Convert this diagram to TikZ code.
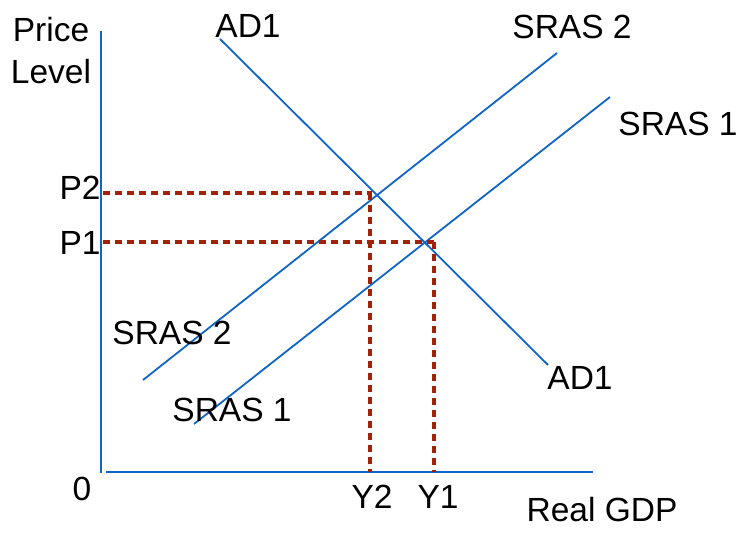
\documentclass[tikz,border=0pt]{standalone}
\usepackage{fontspec}
\setmainfont{Liberation Sans}
\begin{document}
\begin{tikzpicture}[x=1pt,y=-1pt,
  curve/.style={draw=axisblue,line width=1.8pt},
  guide/.style={draw=guidered,line width=3.5pt,dash pattern=on 7pt off 5pt},
  lbl/.style={inner sep=0pt,font=\fontsize{33.5}{33.5}\selectfont}]
\definecolor{axisblue}{RGB}{14,100,200}
\definecolor{guidered}{RGB}{160,34,8}
\useasboundingbox (0,0) rectangle (748,533);
% axes
\coordinate (ytop) at (101,31);
\coordinate (ybot) at (101,473);
\coordinate (xl) at (106,472);
\coordinate (xr) at (593,472);
\draw[curve] (ytop) -- (ybot);
\draw[curve] (xl) -- (xr);
% curves
\coordinate (ad1a) at (220,39);
\coordinate (ad1b) at (548,365);
\coordinate (s2a) at (143,380);
\coordinate (s2b) at (557,53);
\coordinate (s1a) at (194,424);
\coordinate (s1b) at (610,97);
\draw[curve] (ad1a) -- (ad1b);
\draw[curve] (s2a) -- (s2b);
\draw[curve] (s1a) -- (s1b);
% guides
\coordinate (p2l) at (103,193);
\coordinate (p2r) at (372,193);
\coordinate (p1l) at (103,242);
\coordinate (p1r) at (436,242);
\coordinate (y2t) at (370,193);
\coordinate (y2b) at (370,472);
\coordinate (y1t) at (434,242);
\coordinate (y1b) at (434,472);
\draw[guide] (p2l) -- (p2r);
\draw[guide] (p1l) -- (p1r);
\draw[guide] (y2t) -- (y2b);
\draw[guide] (y1t) -- (y1b);
% labels
\node[lbl] (price) at (51,30) {Price};
\node[lbl] (level) at (51,72) {Level};
\node[lbl] (adtop) at (248,26) {AD1};
\node[lbl] (s2top) at (572,27) {SRAS 2};
\node[lbl] (s1top) at (678,124) {SRAS 1};
\node[lbl] (p2) at (80,188) {P2};
\node[lbl] (p1) at (80,243) {P1};
\node[lbl] (s2low) at (172,333) {SRAS 2};
\node[lbl] (s1low) at (232,410) {SRAS 1};
\node[lbl] (adlow) at (580,378) {AD1};
\node[lbl] (zero) at (82,489) {0};
\node[lbl] (y2) at (372,497) {Y2};
\node[lbl] (y1) at (438,497) {Y1};
\node[lbl] (gdp) at (602,510) {Real GDP};
\end{tikzpicture}
\end{document}
